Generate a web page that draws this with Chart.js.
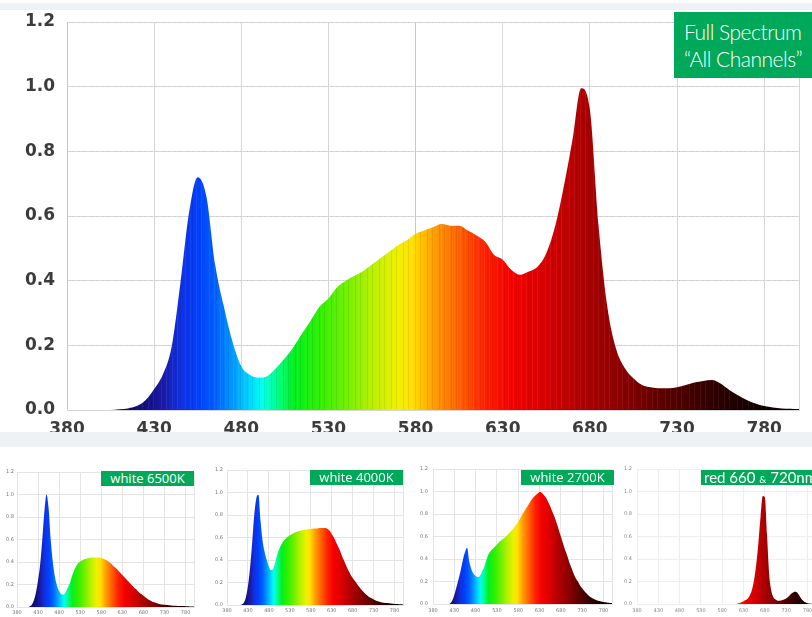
<!DOCTYPE html>
<html>
<head>
<meta charset="utf-8">
<script src="https://cdn.jsdelivr.net/npm/chart.js@4.4.0/dist/chart.umd.min.js"></script>
<style>
    body { margin: 0; width: 812px; height: 617px; overflow: hidden; background: #fff; position: relative; }
    .faixa { position: absolute; left: 0; width: 812px; background: #eef2f5; }
    canvas { position: absolute; }
    .etiqueta { position: absolute; background: #00a859; color: #fff; white-space: nowrap; overflow: hidden; }
    .grande { left: 674px; top: 12px; width: 138px; height: 66px; font-family: Lato, sans-serif; font-weight: 300;
              font-size: 21px; line-height: 27px; padding: 6px 0 0 10px; box-sizing: border-box; letter-spacing: -0.5px; }
    .pequena { width: 93px; height: 15px; font-family: "Open Sans", sans-serif; font-size: 13px; line-height: 15px; text-align: center; }
    .vermelha { left: 701px; top: 470px; width: 111px; height: 15px; font-family: Lato, sans-serif; font-size: 15px;
                line-height: 15px; padding-left: 3px; box-sizing: border-box; }
    .vermelha small { font-size: 10px; }
</style>
</head>
<body>
<div class="faixa" style="top:3px;height:7px"></div>
<div class="faixa" style="top:432px;height:15px"></div>

<canvas id="principal" width="812" height="422" style="left:0;top:10px"></canvas>
<canvas id="g6500" width="210" height="170" style="left:0;top:447px"></canvas>
<canvas id="g4000" width="210" height="170" style="left:205px;top:447px"></canvas>
<canvas id="g2700" width="210" height="170" style="left:410px;top:447px"></canvas>
<canvas id="gVermelho" width="215" height="170" style="left:615px;top:447px"></canvas>

<div class="etiqueta grande">Full Spectrum<br>“All Channels”</div>
<div class="etiqueta pequena" style="left:101px;top:471px">white 6500K</div>
<div class="etiqueta pequena" style="left:310px;top:470px">white 4000K</div>
<div class="etiqueta pequena" style="left:521px;top:470px">white 2700K</div>
<div class="etiqueta vermelha">red 660 <small>&amp;</small> 720nm</div>

<script>
// * Comprimentos de onda (nm) lidos a cada 5 nm
var comprimentosOnda = [380, 385, 390, 395, 400, 405, 410, 415, 420, 425, 430, 435, 440, 445, 450, 455, 460, 465, 470, 475,
    480, 485, 490, 495, 500, 505, 510, 515, 520, 525, 530, 535, 540, 545, 550, 555, 560, 565, 570, 575,
    580, 585, 590, 595, 600, 605, 610, 615, 620, 625, 630, 635, 640, 645, 650, 655, 660, 665, 670, 675,
    680, 685, 690, 695, 700, 705, 710, 715, 720, 725, 730, 735, 740, 745, 750, 755, 760, 765, 770, 775,
    780, 785, 790, 795, 800];

// * Intensidade relativa de cada canal
var espectroCompleto = [0, 0, 0, 0, 0, 0, 0.002, 0.005, 0.012, 0.03, 0.065, 0.11, 0.195, 0.39, 0.61, 0.72, 0.66, 0.45, 0.32, 0.21,
    0.135, 0.108, 0.1, 0.105, 0.13, 0.16, 0.195, 0.237, 0.278, 0.32, 0.345, 0.38, 0.4, 0.415, 0.43, 0.45, 0.47, 0.49, 0.51, 0.525,
    0.545, 0.555, 0.565, 0.575, 0.57, 0.57, 0.555, 0.54, 0.52, 0.48, 0.465, 0.433, 0.418, 0.428, 0.443, 0.485, 0.567, 0.69, 0.835, 0.995,
    0.93, 0.57, 0.32, 0.19, 0.13, 0.098, 0.077, 0.07, 0.067, 0.067, 0.07, 0.077, 0.085, 0.09, 0.093, 0.082, 0.062, 0.046, 0.031, 0.02,
    0.012, 0.008, 0.005, 0.004, 0.003];

var branco6500K = [0, 0, 0, 0, 0, 0, 0.005, 0.02, 0.06, 0.13, 0.24, 0.38, 0.6, 0.85, 1.0, 0.88, 0.6, 0.4, 0.27, 0.19,
    0.14, 0.115, 0.11, 0.13, 0.17, 0.21, 0.27, 0.32, 0.36, 0.39, 0.405, 0.415, 0.425, 0.43, 0.435, 0.44, 0.44, 0.44, 0.44, 0.44,
    0.435, 0.43, 0.42, 0.41, 0.395, 0.38, 0.36, 0.345, 0.325, 0.305, 0.285, 0.265, 0.245, 0.225, 0.205, 0.185, 0.165, 0.15, 0.13, 0.115,
    0.1, 0.085, 0.072, 0.06, 0.05, 0.042, 0.036, 0.03, 0.025, 0.022, 0.019, 0.017, 0.015, 0.013, 0.012, 0.011, 0.01, 0.009, 0.008, 0.008,
    0.007, 0.006, 0.005, 0.005, 0.004];

var branco4000K = [0, 0, 0, 0, 0, 0, 0, 0.005, 0.02, 0.07, 0.17, 0.33, 0.55, 0.8, 0.95, 0.98, 0.75, 0.57, 0.47, 0.4,
    0.34, 0.31, 0.32, 0.38, 0.45, 0.5, 0.54, 0.57, 0.59, 0.605, 0.62, 0.63, 0.64, 0.65, 0.655, 0.66, 0.665, 0.67, 0.67, 0.675,
    0.675, 0.68, 0.68, 0.68, 0.685, 0.685, 0.685, 0.685, 0.675, 0.66, 0.63, 0.6, 0.56, 0.52, 0.48, 0.43, 0.39, 0.345, 0.305, 0.27,
    0.24, 0.215, 0.19, 0.165, 0.14, 0.12, 0.1, 0.085, 0.07, 0.06, 0.05, 0.04, 0.033, 0.027, 0.022, 0.02, 0.017, 0.015, 0.013, 0.011,
    0.01, 0.008, 0.007, 0.006, 0.005];

var branco2700K = [0, 0, 0, 0, 0, 0, 0, 0, 0.005, 0.03, 0.08, 0.15, 0.22, 0.3, 0.39, 0.46, 0.5, 0.38, 0.31, 0.27,
    0.25, 0.24, 0.25, 0.29, 0.33, 0.39, 0.44, 0.47, 0.49, 0.51, 0.53, 0.55, 0.565, 0.58, 0.595, 0.615, 0.635, 0.655, 0.68, 0.705,
    0.73, 0.765, 0.8, 0.83, 0.86, 0.89, 0.92, 0.945, 0.965, 0.98, 0.995, 0.99, 0.97, 0.945, 0.91, 0.87, 0.82, 0.775, 0.72, 0.66,
    0.6, 0.54, 0.48, 0.43, 0.37, 0.32, 0.27, 0.23, 0.2, 0.165, 0.14, 0.115, 0.095, 0.075, 0.06, 0.05, 0.04, 0.032, 0.026, 0.022,
    0.018, 0.015, 0.012, 0.01, 0.008];

var vermelho660e720 = [0, 0, 0, 0, 0, 0, 0, 0, 0, 0, 0, 0, 0, 0, 0, 0, 0, 0, 0, 0,
    0, 0, 0, 0, 0, 0, 0, 0, 0, 0, 0, 0, 0, 0, 0, 0, 0, 0, 0, 0,
    0, 0, 0, 0, 0, 0, 0, 0.003, 0.008, 0.015, 0.025, 0.035, 0.05, 0.08, 0.13, 0.22, 0.36, 0.55, 0.78, 0.96,
    0.95, 0.62, 0.27, 0.12, 0.06, 0.04, 0.03, 0.03, 0.033, 0.04, 0.05, 0.065, 0.085, 0.1, 0.11, 0.105, 0.08, 0.05, 0.03, 0.015,
    0.007, 0.004, 0.002, 0.001, 0];

var marcasX = [380, 430, 480, 530, 580, 630, 680, 730, 780];
var marcasY = [0, 0.2, 0.4, 0.6, 0.8, 1.0, 1.2];

// > Cor de cada comprimento de onda (só estilo, usada no degradê)
var coresEspectro = [
    [380, '#0a0040'], [410, '#0a0a60'], [425, '#101080'], [435, '#1a1aa8'], [445, '#1030e0'], [455, '#0040ff'],
    [465, '#0060ff'], [475, '#0098ff'], [485, '#00d8ff'], [492, '#00ffee'], [500, '#00ff90'], [510, '#00f020'],
    [525, '#30f000'], [540, '#70f000'], [555, '#b8f000'], [570, '#f0f000'], [578, '#ffe000'], [590, '#ffa000'],
    [605, '#ff6000'], [620, '#ff2000'], [635, '#f50000'], [655, '#d80000'], [675, '#b00000'], [700, '#880000'],
    [720, '#600000'], [745, '#380000'], [770, '#180000'], [800, '#000000']
];

function gradienteEspectro(grafico) {
    if (!grafico.chartArea) return 'rgba(0,0,0,0)';
    var eixoX = grafico.scales.x;
    var inicio = eixoX.getPixelForValue(380);
    var fim = eixoX.getPixelForValue(800);
    var degrade = grafico.ctx.createLinearGradient(inicio, 0, fim, 0);
    for (var i = 0; i < coresEspectro.length; i++) {
        degrade.addColorStop((coresEspectro[i][0] - 380) / 420, coresEspectro[i][1]);
    }
    return degrade;
}

// * Linha da direita do quadro (o Chart.js não desenha)
var moldura = {
    id: 'moldura',
    beforeDatasetsDraw: function (grafico, args, opcoes) {
        var area = grafico.chartArea;
        var ctx = grafico.ctx;
        ctx.save();
        ctx.strokeStyle = opcoes.cor;
        ctx.lineWidth = 1;
        ctx.beginPath();
        ctx.moveTo(Math.round(area.right) + 0.5, area.top);
        ctx.lineTo(Math.round(area.right) + 0.5, area.bottom);
        ctx.stroke();
        ctx.restore();
    },
    // ? Listras verticais finas por cima do preenchimento, como no espectrômetro
    afterDatasetsDraw: function (grafico, args, opcoes) {
        if (!opcoes.listras) return;
        var area = grafico.chartArea;
        var ctx = grafico.ctx;
        ctx.save();
        ctx.beginPath();
        ctx.rect(area.left, area.top, area.right - area.left, area.bottom - area.top - 1);
        ctx.clip();
        ctx.globalCompositeOperation = 'source-atop';
        var passo = [3, 2, 4, 3, 2, 3, 5, 2];
        var x = area.left;
        for (var i = 0; x < area.right; i++) {
            ctx.fillStyle = (i % 2 == 0) ? 'rgba(0,0,0,0.07)' : 'rgba(255,255,255,0.06)';
            ctx.fillRect(x, area.top, 1, area.bottom - area.top);
            x += passo[i % passo.length];
        }
        ctx.restore();
    }
};

function criarGrafico(idCanvas, serie, m) {
    var ctx = document.getElementById(idCanvas).getContext('2d');
    var fonte = { family: 'DejaVu Sans', size: m.fonte, weight: m.peso };
    return new Chart(ctx, {
        type: 'line',
        data: {
            datasets: [{
                data: comprimentosOnda.map(function (nm, i) { return { x: nm, y: serie[i] }; }),
                fill: 'origin',
                backgroundColor: function (contexto) { return gradienteEspectro(contexto.chart); },
                borderColor: 'rgba(0,0,0,0)',
                borderWidth: 0,
                pointRadius: 0,
                cubicInterpolationMode: 'monotone'
            }]
        },
        options: {
            responsive: false,
            animation: false,
            layout: { padding: { top: m.topo, right: m.direita, left: 0, bottom: 0 } },
            plugins: { legend: { display: false }, tooltip: { enabled: false }, moldura: { cor: m.grade, listras: m.listras } },
            scales: {
                x: {
                    type: 'linear', min: 380, max: 800,
                    afterBuildTicks: function (eixo) { eixo.ticks = marcasX.map(function (v) { return { value: v }; }); },
                    afterFit: function (eixo) { eixo.height = m.alturaX; },
                    grid: { color: m.grade, drawTicks: false },
                    border: { color: m.grade },
                    ticks: { font: fonte, color: m.texto, padding: m.folgaX, maxRotation: 0, autoSkip: false }
                },
                y: {
                    min: 0, max: 1.2,
                    afterBuildTicks: function (eixo) { eixo.ticks = marcasY.map(function (v) { return { value: v }; }); },
                    // > O eixo reserva espaço em cima para o rótulo 1.2; aqui quem manda é o padding do layout
                    afterFit: function (eixo) { eixo.width = m.larguraY; eixo.paddingTop = 0; eixo.paddingBottom = 0; },
                    grid: { color: m.grade, drawTicks: false },
                    border: { color: m.grade },
                    ticks: {
                        font: fonte, color: m.texto, padding: m.folgaY, autoSkip: false,
                        callback: function (valor) { return valor.toFixed(1); }
                    }
                }
            }
        },
        plugins: [moldura]
    });
}

criarGrafico('principal', espectroCompleto, { topo: 12, direita: 13, larguraY: 67, alturaX: 22, fonte: 17, peso: 'bold', folgaX: 9, folgaY: 12, grade: '#d6d6d6', texto: '#3c3c3c', listras: true });
criarGrafico('g6500', branco6500K, { topo: 25, direita: 16, larguraY: 17, alturaX: 10, fonte: 5, folgaX: 3, folgaY: 3, grade: '#e4e4e4', texto: '#777' });
criarGrafico('g4000', branco4000K, { topo: 23, direita: 12, larguraY: 22, alturaX: 12, fonte: 5, folgaX: 3, folgaY: 4, grade: '#e4e4e4', texto: '#777' });
criarGrafico('g2700', branco2700K, { topo: 22, direita: 8, larguraY: 23, alturaX: 13, fonte: 5, folgaX: 4, folgaY: 5, grade: '#e4e4e4', texto: '#777' });
criarGrafico('gVermelho', vermelho660e720, { topo: 22, direita: 14, larguraY: 22, alturaX: 13, fonte: 5, folgaX: 4, folgaY: 5, grade: '#eee', texto: '#888' });
</script>
</body>
</html>
